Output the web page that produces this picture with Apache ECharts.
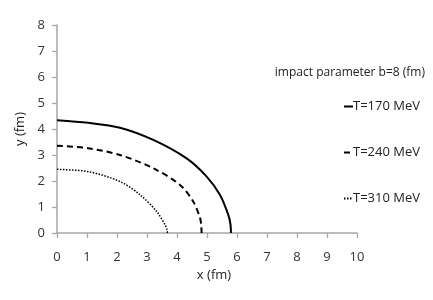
<!DOCTYPE html>
<html><head><meta charset="utf-8">
<script src="https://cdn.jsdelivr.net/npm/echarts@6/dist/echarts.min.js"></script>
<style>html,body{margin:0;padding:0;background:#fff}#c{width:433px;height:300px}</style>
</head><body><div id="c"></div>
<script>
var seriesNames = ['T=170 MeV', 'T=240 MeV', 'T=310 MeV'];
var x170 = [0, 1.04, 2.10, 3.21, 4.32, 4.99, 5.43, 5.71, 5.78, 5.80];
var y170 = [4.34, 4.24, 4.05, 3.58, 2.87, 2.17, 1.47, 0.70, 0.35, 0];
var x240 = [0, 1.04, 2.10, 3.21, 4.10, 4.54, 4.77, 4.81, 4.82];
var y240 = [3.36, 3.26, 3.00, 2.49, 1.85, 1.21, 0.57, 0.25, 0];
var x310 = [0, 1.04, 2.10, 2.77, 3.32, 3.60, 3.67, 3.68];
var y310 = [2.45, 2.36, 1.98, 1.47, 0.83, 0.32, 0.12, 0];
var xTicks = [0, 10, 1];
var yTicks = [0, 8, 1];
var legendTitle = 'impact parameter b=8 (fm)';
var xName = 'x (fm)', yName = 'y (fm)';

function pairs(xs, ys) { return xs.map(function (v, i) { return [v, ys[i]]; }); }
var font = 'Open Sans';
var chart = echarts.init(document.getElementById('c'), null, {renderer: 'canvas'});
var axisCommon = {
  axisLine: {show: true, lineStyle: {color: '#a6a6a6', width: 1.5}},
  axisTick: {show: true, inside: false, length: 5, lineStyle: {color: '#a6a6a6', width: 1.3}},
  splitLine: {show: false},
  nameLocation: 'middle',
  nameTextStyle: {fontFamily: font, fontSize: 13, color: '#222'}
};
function lineSeries(name, xs, ys, width, type) {
  return {name: name, type: 'line', data: pairs(xs, ys), smooth: 0.3, showSymbol: false, symbol: 'circle',
    lineStyle: {color: '#000', width: width, type: type}, itemStyle: {color: '#000'}};
}
chart.setOption({
  animation: false,
  grid: {left: 57, right: 76, top: 25, bottom: 67, containLabel: false},
  title: {text: legendTitle, right: 3, top: 62, textStyle: {fontFamily: font, fontSize: 12, fontWeight: 'normal', color: '#222'}},
  legend: {
    orient: 'vertical', right: 8, top: 95, itemGap: 33, itemWidth: 9, itemHeight: 11,
    itemStyle: {color: 'rgba(0,0,0,0)', borderWidth: 0},
    textStyle: {fontFamily: font, fontSize: 13, color: '#222', padding: [0, 0, 0, -5]},
    data: seriesNames
  },
  xAxis: Object.assign({}, axisCommon, {
    type: 'value', min: xTicks[0], max: xTicks[1], interval: xTicks[2],
    name: xName, nameGap: 34,
    nameTextStyle: {fontFamily: font, fontSize: 13, color: '#222', padding: [0, 0, 0, 14]},
    axisLabel: {margin: 18, fontFamily: font, fontSize: 13, color: '#333'}
  }),
  yAxis: Object.assign({}, axisCommon, {
    type: 'value', min: yTicks[0], max: yTicks[1], interval: yTicks[2],
    name: yName, nameGap: 21, nameRotate: 90,
    nameTextStyle: {fontFamily: font, fontSize: 13, color: '#222', padding: [0, 0, -5, 0]},
    axisLabel: {margin: 12, fontFamily: font, fontSize: 13, color: '#333'}
  }),
  series: [
    lineSeries(seriesNames[0], x170, y170, 2, 'solid'),
    lineSeries(seriesNames[1], x240, y240, 2, [6, 4]),
    lineSeries(seriesNames[2], x310, y310, 1.5, [1.5, 1.5])
  ]
});
</script></body></html>
